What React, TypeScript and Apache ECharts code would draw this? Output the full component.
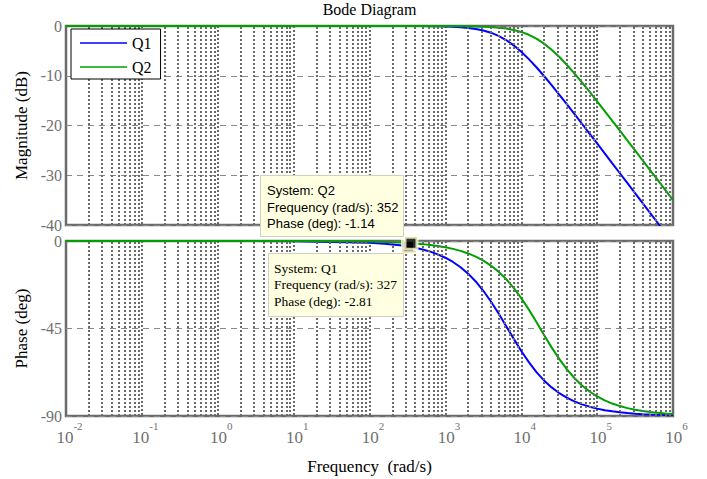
import React, { useEffect, useRef } from "react";
import * as echarts from "echarts";

// ---- data ----
const freqs = [
  0.01, 0.1, 1, 10, 100, 158.5, 251.2, 316.2, 398.1, 501.2, 631.0, 794.3,
  1000, 1259, 1585, 1995, 2512, 3162, 3981, 5012, 6310, 7943,
  10000, 12589, 15849, 19953, 25119, 31623, 39811, 50119, 63096, 79433,
  100000, 125893, 158489, 199526, 251189, 316228, 398107, 501187, 630957, 794328, 1000000,
];
const q1Mag = [
  0, 0, 0, 0, -0.001, -0.0025, -0.006, -0.01, -0.016, -0.025, -0.039, -0.062,
  -0.098, -0.155, -0.243, -0.379, -0.586, -0.895, -1.346, -1.974, -2.815, -3.883,
  -5.173, -6.657, -8.297, -10.05, -11.89, -13.78, -15.72, -17.67, -19.65, -21.62,
  -23.61, -25.61, -27.61, -29.6, -31.6, -33.6, -35.6, -37.6, -39.6, -41.6, -43.6,
];
const q2Mag = [
  0, 0, 0, 0, 0, 0, -0.001, -0.0014, -0.002, -0.003, -0.005, -0.009,
  -0.014, -0.022, -0.034, -0.054, -0.086, -0.135, -0.211, -0.33, -0.515, -0.79,
  -1.19, -1.765, -2.54, -3.54, -4.76, -6.19, -7.79, -9.51, -11.33, -13.21,
  -15.13, -17.09, -19.05, -21.03, -23.02, -25.01, -27.01, -29.0, -31.0, -33.0, -35.0,
];
const q1Phase = [
  0, -0.01, -0.01, -0.09, -0.87, -1.37, -2.18, -2.74, -3.45, -4.34, -5.46, -6.86,
  -8.61, -10.79, -13.49, -16.8, -20.8, -25.6, -31.1, -37.2, -43.7, -50.2,
  -56.6, -62.3, -67.4, -71.7, -75.3, -78.2, -80.6, -82.5, -84.0, -85.2,
  -86.2, -87.0, -87.6, -88.1, -88.5, -88.8, -89.05, -89.24, -89.4, -89.52, -89.6,
];
const q2Phase = [
  0, 0, 0, -0.03, -0.32, -0.51, -0.81, -1.02, -1.28, -1.61, -2.03, -2.56,
  -3.22, -4.05, -5.09, -6.4, -8.04, -10.08, -12.62, -15.74, -19.53, -24.07,
  -29.36, -35.3, -41.71, -48.3, -54.7, -60.6, -65.9, -70.46, -74.3, -77.4,
  -79.9, -81.96, -83.6, -84.9, -85.95, -86.8, -87.44, -87.97, -88.39, -88.72, -88.98,
];
const seriesNames = ["Q1", "Q2"];
const decadeExps = [-2, -1, 0, 1, 2, 3, 4, 5];
const minorMult = [2, 3, 4, 5, 6, 7, 8, 9];
const magTicks = { min: -40, max: 0, interval: 10 };
const phaseTicks = { min: -90, max: 0, interval: 45 };
const tipQ2 = { system: "Q2", freq: 352, phase: -1.14 };
const tipQ1 = { system: "Q1", freq: 327, phase: -2.81 };

const SERIF = "'Liberation Serif', 'Times New Roman', serif";
const SANS = "'Liberation Sans', Arial, sans-serif";
const BLUE = "#0000ff";
const GREEN = "#00a000";
const GRIDGRAY = "#6a6a6a";
const LABELGRAY = "#707070";

function zip(xs: number[], ys: number[]) {
  return xs.map((x, i) => [x, ys[i]]);
}

export default function App() {
  const ref = useRef<HTMLDivElement>(null);
  useEffect(() => {
    document.body.style.margin = "0";
    if (!ref.current) return;
    const chart = echarts.init(ref.current, undefined, { renderer: "svg" });

    const minorLines: { xAxis: number }[] = [];
    decadeExps.forEach((e) =>
      minorMult.forEach((m) => minorLines.push({ xAxis: m * Math.pow(10, e) }))
    );
    const dotted = { type: [2, 2] as any, color: GRIDGRAY, width: 2 };
    const gridMarkLine = {
      silent: true,
      symbol: ["none", "none"],
      label: { show: false },
      lineStyle: dotted,
      emphasis: { disabled: true },
      animation: false,
      data: minorLines,
    };

    const xBase = (idx: number, showLabels: boolean) => ({
      type: "log" as const,
      logBase: 10,
      gridIndex: idx,
      min: 0.01,
      max: 1000000,
      interval: 1,
      splitNumber: 8,
      axisLine: { show: false },
      axisTick: { show: false },
      splitLine: { show: true, lineStyle: dotted },
      axisLabel: showLabels
        ? {
            show: true,
            interval: 0,
            margin: 4,
            showMinLabel: true,
            showMaxLabel: true,
            formatter: (v: number) => `{b|10}{s|${Math.round(Math.log10(v))}}`,
            rich: {
              b: {
                fontSize: 17,
                fontFamily: SERIF,
                color: LABELGRAY,
                padding: [9, 0, 0, 7],
                verticalAlign: "bottom",
              },
              s: {
                fontSize: 11,
                fontFamily: SERIF,
                color: LABELGRAY,
                verticalAlign: "top",
              },
            },
          }
        : { show: false },
      name: showLabels ? "Frequency  (rad/s)" : "",
      nameLocation: "middle" as const,
      nameGap: 42,
      nameTextStyle: { fontSize: 17, fontFamily: SERIF, color: "#000" },
    });

    const yBase = (idx: number, t: { min: number; max: number; interval: number }, name: string) => ({
      type: "value" as const,
      gridIndex: idx,
      min: t.min,
      max: t.max,
      interval: t.interval,
      axisLine: { show: false },
      axisTick: { show: false },
      splitLine: { show: true, lineStyle: { type: [6, 5] as any, color: "#8a8a8a", width: 1 } },
      axisLabel: { fontSize: 16, fontFamily: SERIF, color: LABELGRAY, margin: 4 },
      name,
      nameLocation: "middle" as const,
      nameGap: 33,
      nameTextStyle: { fontSize: 17, fontFamily: SERIF, color: "#000" },
    });

    const curve = (name: string, color: string, data: number[][], gi: number) => ({
      name,
      type: "line" as const,
      xAxisIndex: gi,
      yAxisIndex: gi,
      data,
      showSymbol: false,
      symbol: "none",
      smooth: false,
      lineStyle: { color, width: 2 },
      itemStyle: { color },
      z: 3,
      silent: true,
    });

    const marker = (name: string, d: { freq: number; phase: number }, z: number) => ({
      name,
      type: "scatter" as const,
      xAxisIndex: 1,
      yAxisIndex: 1,
      data: [[d.freq, d.phase]],
      symbol: "rect",
      symbolSize: 12,
      itemStyle: { color: "#000", borderColor: "#ffffd8", borderWidth: 3 },
      z,
      silent: true,
    });

    const tipText = (x: number, y: number, text: string, font: string) => ({
      type: "text",
      x,
      y,
      z: 101,
      silent: true,
      style: { text, font, fill: "#000", verticalAlign: "middle", align: "left" },
    });

    chart.setOption({
      animation: false,
      legend: {
        data: seriesNames.map((n) => ({ name: n, icon: "rect" })),
        orient: "vertical",
        left: 71,
        top: 29,
        backgroundColor: "#fff",
        borderColor: "#000",
        borderWidth: 1,
        borderRadius: 0,
        padding: [5, 9, 3, 9],
        itemGap: 6,
        itemWidth: 47,
        itemHeight: 1.5,
        textStyle: { fontSize: 16, fontFamily: SERIF, color: "#000", lineHeight: 18 },
        selectedMode: false,
        z: 20,
      },
      grid: [
        { left: 66, top: 26, width: 607, height: 199, show: true, borderColor: "#6b6b6b", borderWidth: 2.5, backgroundColor: "#fff" },
        { left: 66, top: 241, width: 607, height: 175, show: true, borderColor: "#6b6b6b", borderWidth: 2.5, backgroundColor: "#fff" },
      ],
      xAxis: [xBase(0, false), xBase(1, true)],
      yAxis: [yBase(0, magTicks, "Magnitude (dB)"), yBase(1, phaseTicks, "Phase (deg)")],
      series: [
        { name: "_grid0", type: "line", xAxisIndex: 0, yAxisIndex: 0, data: [], z: 1, markLine: gridMarkLine },
        { name: "_grid1", type: "line", xAxisIndex: 1, yAxisIndex: 1, data: [], z: 1, markLine: gridMarkLine },
        curve(seriesNames[0], BLUE, zip(freqs, q1Mag), 0),
        curve(seriesNames[1], GREEN, zip(freqs, q2Mag), 0),
        curve(seriesNames[0], BLUE, zip(freqs, q1Phase), 1),
        curve(seriesNames[1], GREEN, zip(freqs, q2Phase), 1),
        marker("_tipQ1", tipQ1, 10),
        marker("_tipQ2", tipQ2, 11),
      ],
      graphic: [
        {
          type: "text",
          x: 369.5,
          y: 9,
          silent: true,
          style: { text: "Bode Diagram", font: `16px ${SERIF}`, fill: "#000", align: "center", verticalAlign: "middle" },
        },
        {
          type: "rect",
          z: 100,
          silent: true,
          shape: { x: 260.5, y: 175.5, width: 143, height: 61 },
          style: { fill: "#ffffe1", stroke: "#d0d0c0", lineWidth: 1 },
        },
        tipText(267, 190, `System: ${tipQ2.system}`, `13px ${SANS}`),
        tipText(267, 207, `Frequency (rad/s): ${tipQ2.freq}`, `13px ${SANS}`),
        tipText(267, 223, `Phase (deg): ${tipQ2.phase.toFixed(2)}`, `13px ${SANS}`),
        {
          type: "rect",
          z: 100,
          silent: true,
          shape: { x: 268.5, y: 253.5, width: 135, height: 63 },
          style: { fill: "#ffffe1", stroke: "#d0d0c0", lineWidth: 1 },
        },
        tipText(274, 268, `System: ${tipQ1.system}`, `13.5px ${SERIF}`),
        tipText(274, 284, `Frequency (rad/s): ${tipQ1.freq}`, `13.5px ${SERIF}`),
        tipText(274, 301, `Phase (deg): ${tipQ1.phase.toFixed(2)}`, `13.5px ${SERIF}`),
      ],
    });
    return () => chart.dispose();
  }, []);
  return <div ref={ref} style={{ width: 707, height: 479 }} />;
}
